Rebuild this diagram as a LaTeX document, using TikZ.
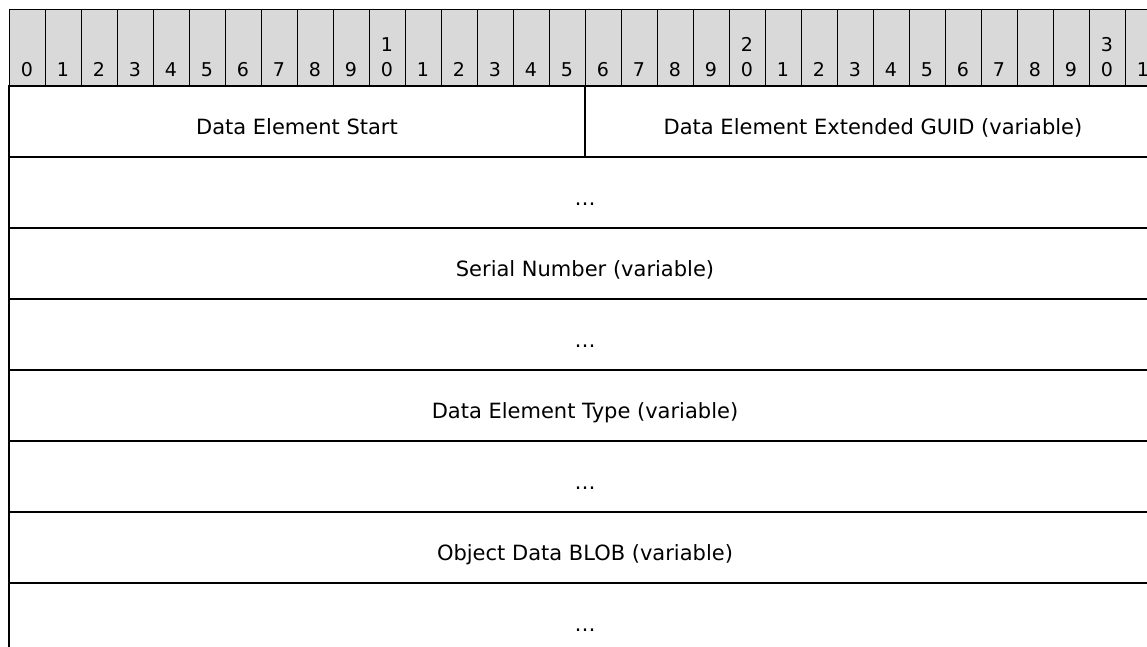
\documentclass[tikz,border=0pt]{standalone}
\usepackage{fontspec}
\setmainfont{DejaVu Sans}
\tikzset{
  bitcell/.style={draw, line width=1pt, fill=gray!30, minimum width=36pt, minimum height=76pt, inner sep=0pt},
  bitnum/.style={anchor=south, inner sep=0pt, font=\fontsize{19}{25}\selectfont, align=center},
  fieldbox/.style={draw, line width=1.5pt, minimum height=71pt, inner sep=0pt},
  fieldtext/.style={anchor=base, inner sep=0pt, font=\fontsize{21}{24}\selectfont}
}
\begin{document}
\begin{tikzpicture}[x=1pt, y=-1pt]
    \useasboundingbox (0,0) rectangle (1147,647);
    \clip (0,0) rectangle (1147,647);
    % bit ruler
    \foreach \i in {0,...,31} {
        \pgfmathtruncatemacro{\tens}{\i/10}
        \pgfmathtruncatemacro{\ones}{mod(\i,10)}
        \node[bitcell] (h\i) at (27+36*\i,48) {};
        \ifnum\i>9 \ifnum\ones=0
            \node[bitnum] (n\i) at ([yshift=10pt]h\i.south) {\tens\\\ones};
        \else
            \node[bitnum] (n\i) at ([yshift=10pt]h\i.south) {\ones};
        \fi \else
            \node[bitnum] (n\i) at ([yshift=10pt]h\i.south) {\ones};
        \fi
    }
    % first row, split at bit 16
    \node[fieldbox, minimum width=576pt] (start) at (297,121.5) {};
    \node[fieldtext] (starttxt) at ([yshift=-13pt]start.center) {Data Element Start};
    \node[fieldbox, minimum width=576pt] (guid) at (873,121.5) {};
    \node[fieldtext] (guidtxt) at ([yshift=-13pt]guid.center) {Data Element Extended GUID (variable)};
    % full rows
    \foreach \y/\name/\txt in {192.5/guidmore/\dots, 263.5/serial/Serial Number (variable),
        334.5/serialmore/\dots, 405.5/type/Data Element Type (variable),
        476.5/typemore/\dots, 547.5/blob/Object Data BLOB (variable), 618.5/blobmore/\dots} {
        \node[fieldbox, minimum width=1152pt] (\name) at (585,\y) {};
        \node[fieldtext] (\name txt) at ([yshift=-13pt]\name.center) {\txt};
    }
\end{tikzpicture}
\end{document}
